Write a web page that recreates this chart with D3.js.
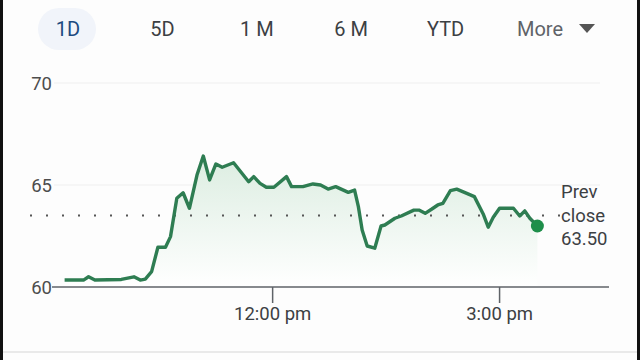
<!DOCTYPE html>
<html>
<head>
<meta charset="utf-8">
<script src="https://cdn.jsdelivr.net/npm/d3@7"></script>
<style>
  html, body { margin: 0; padding: 0; background: #fff; }
  svg { display: block; font-family: Roboto, "Noto Sans", sans-serif; }
</style>
</head>
<body>
<svg id="chart" width="640" height="360"></svg>
<script>
// Intraday prices (1D view)
const times = [
  "9:15", "9:30", "9:34", "9:39", "10:00", "10:10", "10:15", "10:19", "10:24", "10:29",
  "10:35", "10:39", "10:44", "10:49", "10:54", "11:00", "11:05", "11:10", "11:15", "11:20",
  "11:29", "11:41", "11:45", "11:50", "11:55", "12:01", "12:11", "12:15", "12:24", "12:32",
  "12:38", "12:44", "12:50", "13:00", "13:05", "13:08", "13:11", "13:15", "13:21", "13:26",
  "13:29", "13:37", "13:42", "13:52", "13:56", "14:01", "14:06", "14:11", "14:15", "14:21",
  "14:26", "14:34", "14:40", "14:47", "14:51", "14:55", "15:00", "15:06", "15:11", "15:16",
  "15:20", "15:24", "15:30"
];
const prices = [
  60.34, 60.34, 60.50, 60.34, 60.37, 60.50, 60.34, 60.39, 60.75, 61.95,
  61.95, 62.47, 64.35, 64.62, 63.86, 65.49, 66.42, 65.25, 66.03, 65.87,
  66.09, 65.16, 65.41, 65.08, 64.89, 64.89, 65.41, 64.92, 64.92, 65.05,
  65.00, 64.80, 64.92, 64.64, 64.75, 63.94, 62.79, 62.01, 61.90, 62.99,
  63.04, 63.37, 63.48, 63.77, 63.77, 63.61, 63.81, 64.02, 64.10, 64.72,
  64.80, 64.59, 64.43, 63.58, 62.93, 63.42, 63.86, 63.86, 63.86, 63.48,
  63.73, 63.37, 62.99
];
const prevClose = 63.50;
const yTicks = [60, 65, 70];
const xTicks = ["12:00", "15:00"];
const xTickLabels = ["12:00 pm", "3:00 pm"];
const tabs = ["1D", "5D", "1 M", "6 M", "YTD", "More"];

const parseTime = d3.timeParse("%H:%M");
const data = times.map((t, i) => ({ t: parseTime(t), v: prices[i] }));

const svg = d3.select("#chart");

// screenshot edges
svg.append("rect").attr("x", 0).attr("y", 0).attr("width", 640).attr("height", 360).attr("fill", "#fdfdfd");
svg.append("rect").attr("x", 0).attr("y", 0).attr("width", 3).attr("height", 360).attr("fill", "#111");
svg.append("rect").attr("x", 637).attr("y", 0).attr("width", 3).attr("height", 360).attr("fill", "#111");

// Range tabs
const tabX = d3.scalePoint().domain(tabs).range([68, 540]);
svg.append("rect")
  .attr("x", 38).attr("y", 8).attr("width", 58).attr("height", 42)
  .attr("rx", 21).attr("fill", "#f1f4fa");
svg.selectAll("text.tab")
  .data(tabs)
  .join("text")
  .attr("class", "tab")
  .attr("x", (d) => tabX(d))
  .attr("y", 36)
  .attr("text-anchor", "middle")
  .attr("font-size", 20)
  .attr("fill", (d, i) => (i === 0 ? "#1d4a80" : d === "More" ? "#5f6368" : "#3c4043"))
  .text((d) => d);
svg.append("path")
  .attr("d", "M579,24 L595,24 L587,33 Z")
  .attr("fill", "#555");

// Scales
const x = d3.scaleTime()
  .domain([parseTime("9:05"), parseTime("16:26")])
  .range([52, 608]);
const y = d3.scaleLinear().domain([60, 70]).range([287, 83]);

// Gradient for area
const defs = svg.append("defs");
const grad = defs.append("linearGradient")
  .attr("id", "areaGrad")
  .attr("x1", 0).attr("y1", 0).attr("x2", 0).attr("y2", 1);
grad.append("stop").attr("offset", "0%").attr("stop-color", "#dcede1");
grad.append("stop").attr("offset", "100%").attr("stop-color", "#ffffff");

// Gridlines
svg.selectAll("line.grid")
  .data(yTicks.filter((d) => d !== 60))
  .join("line")
  .attr("class", "grid")
  .attr("x1", 54).attr("x2", 600)
  .attr("y1", (d) => y(d)).attr("y2", (d) => y(d))
  .attr("stroke", "#efefef").attr("stroke-width", 1);

// Y labels
svg.selectAll("text.ylab")
  .data(yTicks)
  .join("text")
  .attr("class", "ylab")
  .attr("x", 52)
  .attr("y", (d) => y(d) + 6.5)
  .attr("text-anchor", "end")
  .attr("font-size", 18.5)
  .attr("fill", "#4d4d4d")
  .text((d) => d);

// Area
const area = d3.area()
  .x((d) => x(d.t))
  .y0(y(60))
  .y1((d) => y(d.v));
svg.append("path")
  .datum(data)
  .attr("d", area)
  .attr("fill", "url(#areaGrad)");

// Prev close dotted line
svg.append("line")
  .attr("x1", 30).attr("x2", 561)
  .attr("y1", y(prevClose)).attr("y2", y(prevClose))
  .attr("stroke", "#555")
  .attr("stroke-width", 2)
  .attr("stroke-dasharray", "2,14");

// Price line
const line = d3.line()
  .x((d) => x(d.t))
  .y((d) => y(d.v));
svg.append("path")
  .datum(data)
  .attr("d", line)
  .attr("fill", "none")
  .attr("stroke", "#2e7d52")
  .attr("stroke-width", 3.4)
  .attr("stroke-linejoin", "round");

// Last point marker
const last = data[data.length - 1];
svg.append("circle")
  .attr("cx", x(last.t)).attr("cy", y(last.v))
  .attr("r", 6.5)
  .attr("fill", "#1e8e4a");

// Baseline and x axis
const xAxis = svg.append("g").attr("transform", `translate(0,${y(60)})`);
xAxis.append("line")
  .attr("x1", 52).attr("x2", 609)
  .attr("stroke", "#5f6368").attr("stroke-width", 1.5);
xTicks.forEach((t, i) => {
  const px = x(parseTime(t));
  xAxis.append("line")
    .attr("x1", px).attr("x2", px).attr("y1", 0).attr("y2", 16)
    .attr("stroke", "#5f6368").attr("stroke-width", 1.5);
  xAxis.append("text")
    .attr("x", px).attr("y", 33)
    .attr("text-anchor", "middle")
    .attr("font-size", 18.5)
    .attr("fill", "#3c4043")
    .text(xTickLabels[i]);
});

// Prev close label
const lbl = svg.append("text")
  .attr("x", 561).attr("y", 198)
  .attr("font-size", 18.5)
  .attr("fill", "#3c4043");
["Prev", "close", prevClose.toFixed(2)].forEach((s, i) => {
  lbl.append("tspan").attr("x", 561).attr("dy", i === 0 ? 0 : 23.5).text(s);
});

// bottom separator
svg.append("line")
  .attr("x1", 3).attr("x2", 637).attr("y1", 352).attr("y2", 352)
  .attr("stroke", "#e2e2e2").attr("stroke-width", 1.5);
</script>
</body>
</html>
